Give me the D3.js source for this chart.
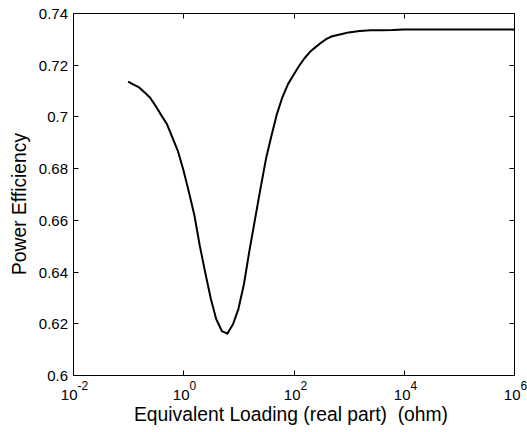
<!DOCTYPE html>
<html>
<head>
<meta charset="utf-8">
<script src="https://cdn.jsdelivr.net/npm/d3@7"></script>
<style>
html,body{margin:0;padding:0;background:#fff;}
text{font-family:"Liberation Sans",Arial,sans-serif;fill:#000;}
</style>
</head>
<body>
<svg id="chart" width="527" height="432"></svg>
<script>
// Data (x in ohm, log-spaced; y = power efficiency)
const logX = [-1.0,-0.9,-0.8,-0.7,-0.6,-0.5,-0.4,-0.3,-0.2,-0.1,0.0,0.1,0.2,0.3,0.4,0.5,0.6,0.7,0.8,0.9,1.0,1.1,1.2,1.3,1.4,1.5,1.6,1.7,1.8,1.9,2.0,2.1,2.2,2.3,2.4,2.5,2.6,2.7,2.8,2.9,3.0,3.2,3.4,3.6,3.8,4.0,5.0,6.0];
const efficiency = [0.7135,0.7123,0.7112,0.7093,0.7072,0.7040,0.7005,0.6972,0.6920,0.6868,0.6795,0.6710,0.6620,0.6500,0.6395,0.6295,0.6215,0.6170,0.6160,0.6195,0.6255,0.6350,0.6480,0.6600,0.6720,0.6835,0.6925,0.7010,0.7075,0.7125,0.7160,0.7195,0.7225,0.7250,0.7268,0.7285,0.7300,0.7310,0.7315,0.7320,0.7325,0.7330,0.7333,0.7333,0.7334,0.7336,0.7336,0.7336];
const xTickExps = [-2,0,2,4,6];
const yTicks = [0.6,0.62,0.64,0.66,0.68,0.7,0.72,0.74];
const xLabel = "Equivalent Loading (real part)  (ohm)";
const yLabel = "Power Efficiency";

const loading = logX.map(v => Math.pow(10, v));
const data = loading.map((x,i) => ({x, y: efficiency[i]}));

const L = 73, R = 514, T = 13, B = 375;
const svg = d3.select("#chart");
const x = d3.scaleLog().domain([1e-2, 1e6]).range([L, R]);
const y = d3.scaleLinear().domain([0.6, 0.74]).range([B, T]);
const tl = 5;

// curve
svg.append("path")
  .datum(data)
  .attr("fill","none")
  .attr("stroke","#000")
  .attr("stroke-width",2)
  .attr("stroke-linejoin","round")
  .attr("d", d3.line().x(d=>x(d.x)).y(d=>y(d.y)));

// box
svg.append("rect").attr("x",L+0.5).attr("y",T+0.5).attr("width",R-L).attr("height",B-T)
  .attr("fill","none").attr("stroke","#000").attr("stroke-width",1);

const xt = xTickExps.map(e => Math.pow(10,e));
// x ticks (inward, bottom and top)
const gx = svg.append("g");
xt.forEach((v,i) => {
  const px = Math.round(x(v)) + 0.5;
  gx.append("line").attr("x1",px).attr("x2",px).attr("y1",B+0.5).attr("y2",B+0.5-tl).attr("stroke","#000");
  gx.append("line").attr("x1",px).attr("x2",px).attr("y1",T+0.5).attr("y2",T+0.5+tl).attr("stroke","#000");
  const t = gx.append("text").attr("x", px+1).attr("y", B+25).attr("font-size",15).attr("text-anchor","middle");
  t.append("tspan").text("10");
  t.append("tspan").attr("dy",-10).attr("font-size",12).text(String(xTickExps[i]));
});
// y ticks
const gy = svg.append("g");
yTicks.forEach(v => {
  const py = Math.round(y(v)) + 0.5;
  gy.append("line").attr("x1",L+0.5).attr("x2",L+0.5+tl).attr("y1",py).attr("y2",py).attr("stroke","#000");
  gy.append("line").attr("x1",R+0.5).attr("x2",R+0.5-tl).attr("y1",py).attr("y2",py).attr("stroke","#000");
  gy.append("text").attr("x",L-5).attr("y",py+5.5).attr("font-size",15).attr("text-anchor","end")
    .text(d3.format("~g")(v));
});

// axis labels
svg.append("text").attr("x",291).attr("y",421).attr("font-size",19.3).attr("text-anchor","middle")
  .style("white-space","pre").text(xLabel);
svg.append("text").attr("transform",`translate(26,204) rotate(-90)`).attr("font-size",19.3).attr("text-anchor","middle").text(yLabel);
</script>
</body>
</html>
